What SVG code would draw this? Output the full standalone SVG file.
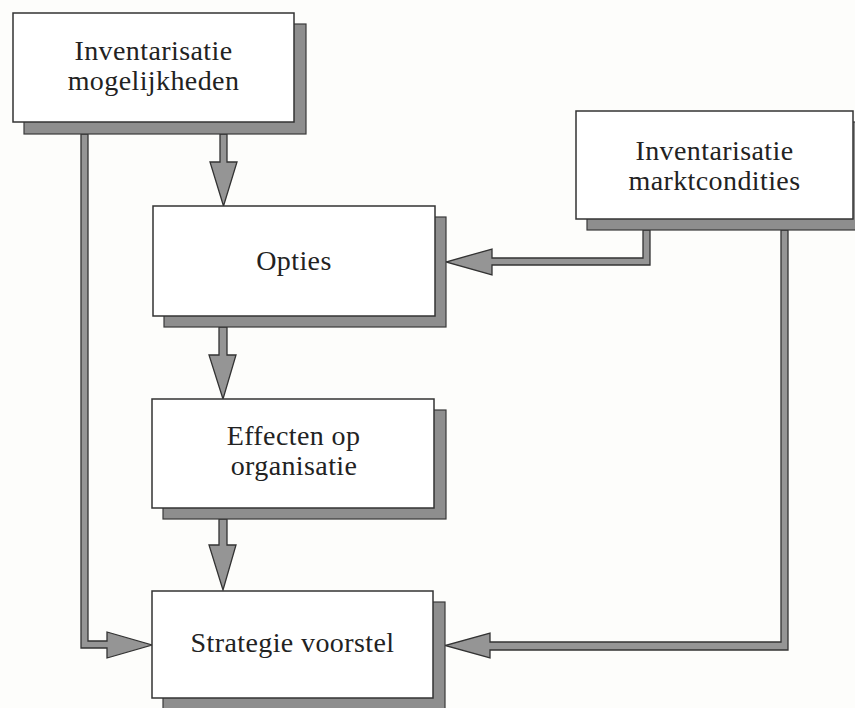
<svg xmlns="http://www.w3.org/2000/svg" width="855" height="708" viewBox="0 0 855 708">
<style>
  .bg { fill: #fdfdfb; }
  .box { fill: #ffffff; stroke: #333333; stroke-width: 1.5; }
  .shadow { fill: #8e8e8e; stroke: #3a3a3a; stroke-width: 1.2; }
  .conn { fill: #959595; stroke: #333333; stroke-width: 1.3; stroke-linejoin: miter; }
  .lbl { font-family: "Liberation Serif", "Times New Roman", serif; font-size: 28px; letter-spacing: 0.4px; fill: #222222; text-anchor: middle; }
</style>
<rect class="bg" x="0" y="0" width="855" height="708"/>

<g id="connectors">
  <!-- mogelijkheden -> Opties -->
  <polygon class="conn" points="220,134 227,134 227,162 237,162 223.5,206 210,162 220,162"/>
  <!-- Opties -> Effecten -->
  <polygon class="conn" points="219,327 227,327 227,355 236,355 223,399 209,355 219,355"/>
  <!-- Effecten -> Strategie -->
  <polygon class="conn" points="219,519 227,519 227,545 236,545 223,590 209,545 219,545"/>
  <!-- mogelijkheden -> Strategie (left) -->
  <polygon class="conn" points="81,134 88,134 88,641 107,641 107,632 152,645 107,658 107,648 81,648"/>
  <!-- marktcondities -> Opties -->
  <polygon class="conn" points="643,230 650,230 650,265 492,265 492,275 446,262 492,249 492,258 643,258"/>
  <!-- marktcondities -> Strategie -->
  <polygon class="conn" points="781,230 788,230 788,650 490,650 490,658 445,645.5 490,633 490,642 781,642"/>
</g>

<g id="node-mogelijkheden">
  <rect class="shadow" x="24" y="24" width="282" height="110"/>
  <rect class="box" x="13" y="13" width="281" height="109"/>
  <text class="lbl" x="153.5" y="60">Inventarisatie</text>
  <text class="lbl" x="153.5" y="90">mogelijkheden</text>
</g>

<g id="node-marktcondities">
  <rect class="shadow" x="587" y="122" width="280" height="108"/>
  <rect class="box" x="576" y="111" width="277" height="108"/>
  <text class="lbl" x="714.5" y="160">Inventarisatie</text>
  <text class="lbl" x="714.5" y="190">marktcondities</text>
</g>

<g id="node-opties">
  <rect class="shadow" x="164" y="217" width="282" height="110"/>
  <rect class="box" x="153" y="206" width="282" height="110"/>
  <text class="lbl" x="294" y="270">Opties</text>
</g>

<g id="node-effecten">
  <rect class="shadow" x="163" y="410" width="283" height="109"/>
  <rect class="box" x="152" y="399" width="282" height="109"/>
  <text class="lbl" x="293.5" y="445">Effecten op</text>
  <text class="lbl" x="294" y="475">organisatie</text>
</g>

<g id="node-strategie">
  <rect class="shadow" x="163" y="602" width="282" height="110"/>
  <rect class="box" x="152" y="591" width="281" height="107"/>
  <text class="lbl" x="292.5" y="652">Strategie voorstel</text>
</g>
</svg>
